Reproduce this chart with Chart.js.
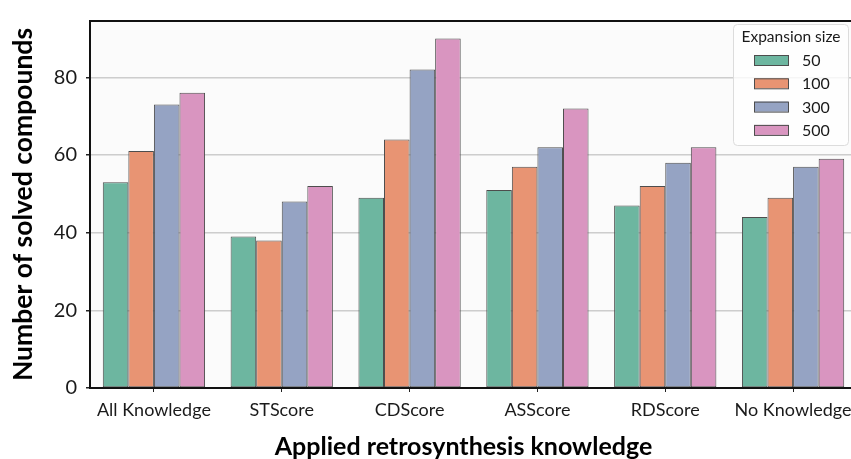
<!DOCTYPE html>
<html>
<head>
<meta charset="utf-8">
<script src="https://cdn.jsdelivr.net/npm/chart.js@4/dist/chart.umd.min.js"></script>
<style>
  html, body { margin: 0; padding: 0; background: #ffffff; overflow: hidden; }
  #wrap { position: absolute; left: 0; top: 0; width: 860px; height: 459px; }
</style>
</head>
<body>
<div id="wrap"><canvas id="chart" width="860" height="459"></canvas></div>
<script>
// Solved compounds per knowledge setting and expansion size
const categories = ['All Knowledge', 'STScore', 'CDScore', 'ASScore', 'RDScore', 'No Knowledge'];
const seriesNames = ['50', '100', '300', '500'];
const size50  = [53, 39, 49, 51, 47, 44];
const size100 = [61, 38, 64, 57, 52, 49];
const size300 = [73, 48, 82, 62, 58, 57];
const size500 = [76, 52, 90, 72, 62, 59];
const yTicks = [0, 20, 40, 60, 80];
const xTitle = 'Applied retrosynthesis knowledge';
const yTitle = 'Number of solved compounds';
const legendTitle = 'Expansion size';

const colors = ['#6db6a0', '#e89473', '#95a3c3', '#d995c0'];
const FONT = 'Lato, "Open Sans", sans-serif';

const values = [size50, size100, size300, size500];
const datasets = seriesNames.map((name, i) => ({
  label: name,
  data: values[i],
  backgroundColor: colors[i],
  borderColor: '#4d4d4d',
  borderWidth: 1,
  borderSkipped: false,
  categoryPercentage: 0.8,
  barPercentage: 1.0
}));

// Plot background, top frame line and the two axis titles
const frame = {
  id: 'frame',
  beforeDraw(chart) {
    const { ctx, chartArea: a } = chart;
    ctx.save();
    ctx.fillStyle = '#fbfbfb';
    ctx.fillRect(a.left, a.top, a.right - a.left, a.bottom - a.top);
    ctx.restore();
  },
  afterDraw(chart) {
    const { ctx, chartArea: a } = chart;
    ctx.save();
    ctx.strokeStyle = '#111111';
    ctx.lineWidth = 2;
    ctx.beginPath();
    ctx.moveTo(a.left - 1, a.top);
    ctx.lineTo(a.right + 1, a.top);
    ctx.moveTo(a.right, a.top);
    ctx.lineTo(a.right, a.bottom);
    ctx.stroke();

    ctx.fillStyle = '#000000';
    ctx.textAlign = 'center';
    ctx.textBaseline = 'alphabetic';
    ctx.font = 'bold 25px ' + FONT;
    ctx.fillText(xTitle, 463.5, 455);

    ctx.translate(32, (a.top + a.bottom) / 2);
    ctx.rotate(-Math.PI / 2);
    ctx.font = 'bold 26.5px ' + FONT;
    ctx.fillText(yTitle, 0, 0);
    ctx.restore();
  }
};

// Legend box in the upper right corner of the plot
const boxLegend = {
  id: 'boxLegend',
  afterDraw(chart) {
    const { ctx } = chart;
    const x = 733, y = 24, w = 115, h = 121, r = 4;
    ctx.save();
    ctx.beginPath();
    ctx.roundRect(x + 0.5, y + 0.5, w, h, r);
    ctx.fillStyle = 'rgba(255,255,255,0.8)';
    ctx.fill();
    ctx.strokeStyle = '#dcdcdc';
    ctx.lineWidth = 1;
    ctx.stroke();

    ctx.fillStyle = '#1a1a1a';
    ctx.font = '15.5px ' + FONT;
    ctx.textAlign = 'center';
    ctx.textBaseline = 'middle';
    ctx.fillText(legendTitle, x + w / 2 + 0.5, 37);

    ctx.textAlign = 'left';
    ctx.font = '16px ' + FONT;
    chart.data.datasets.forEach((ds, i) => {
      const cy = 60 + i * 23.3;
      ctx.fillStyle = ds.backgroundColor;
      ctx.fillRect(754, cy - 5, 34, 10);
      ctx.strokeStyle = '#4d4d4d';
      ctx.lineWidth = 1;
      ctx.strokeRect(754.5, cy - 4.5, 34, 10);
      ctx.fillStyle = '#1a1a1a';
      ctx.fillText(ds.label, 802, cy + 1);
    });
    ctx.restore();
  }
};

new Chart(document.getElementById('chart'), {
  type: 'bar',
  data: { labels: categories, datasets },
  options: {
    responsive: false,
    animation: false,
    devicePixelRatio: 1,
    layout: { padding: { left: 0, top: 14, right: 3, bottom: 0 } },
    plugins: {
      legend: { display: false },
      tooltip: { enabled: false }
    },
    scales: {
      x: {
        afterFit(s) { s.height = 71; },
        grid: {
          offset: false,
          drawOnChartArea: false,
          drawTicks: true,
          tickLength: 4,
          tickColor: '#222222'
        },
        border: { display: true, color: '#111111', width: 2 },
        ticks: {
          color: '#1a1a1a',
          padding: 7,
          maxRotation: 0,
          autoSkip: false,
          font: { family: FONT, size: 18 }
        }
      },
      y: {
        z: 1,
        min: 0,
        max: 94.5,
        afterFit(s) { s.width = 90; },
        afterBuildTicks(s) {
          s.ticks = yTicks.map(v => ({ value: v }));
        },
        grid: {
          color: 'rgba(190,190,190,0.75)',
          lineWidth: 1.5,
          drawTicks: true,
          tickLength: 4,
          tickColor: '#222222'
        },
        border: { display: true, color: '#111111', width: 2 },
        ticks: {
          color: '#1a1a1a',
          padding: 9,
          font: { family: FONT, size: 20 }
        }
      }
    }
  },
  plugins: [frame, boxLegend]
});
</script>
</body>
</html>
